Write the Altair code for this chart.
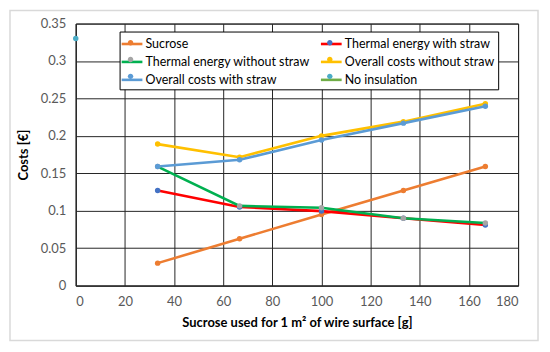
import altair as alt
import pandas as pd

x_vals = [33.33, 66.67, 100, 133.33, 166.67]
series_names = ["Sucrose", "Thermal energy with straw", "Thermal energy without straw",
                "Overall costs without straw", "Overall costs with straw", "No insulation"]
sucrose = [0.030, 0.0625, 0.095, 0.127, 0.159]
thermal_with = [0.127, 0.105, 0.0995, 0.090, 0.081]
thermal_without = [0.159, 0.1065, 0.104, 0.090, 0.0835]
overall_without = [0.189, 0.1715, 0.200, 0.219, 0.243]
overall_with = [0.159, 0.168, 0.1945, 0.217, 0.2395]
no_ins_x = [0]
no_ins_y = [0.33]

line_colors = ["#ED7D31", "#FF0000", "#00B050", "#FFC000", "#5B9BD5", "#70AD47"]
marker_colors = ["#ED7D31", "#4472C4", "#A5A5A5", "#FFC000", "#5B9BD5", "#4BACC6"]

rows = []
for name, ys in zip(series_names[:5], [sucrose, thermal_with, thermal_without, overall_without, overall_with]):
    for xv, yv in zip(x_vals, ys):
        rows.append({"series": name, "x": xv, "y": yv})
for xv, yv in zip(no_ins_x, no_ins_y):
    rows.append({"series": series_names[5], "x": xv, "y": yv})
df = pd.DataFrame(rows)

# legend fills column-major: reorder so it reads row by row like the original
legend_idx = [0, 2, 4, 1, 3, 5]
legend_order = [series_names[i] for i in legend_idx]
line_range = [line_colors[i] for i in legend_idx]
marker_range = [marker_colors[i] for i in legend_idx]

FONT = "Lato"
line_sym = "M-1.3,0H1.3"
dot_sym = "M0.34,0A0.34,0.34 0 1,1 -0.34,0A0.34,0.34 0 1,1 0.34,0Z"

common_legend = dict(orient="none", legendX=44, legendY=8, columns=2, title=None,
                     labelFont=FONT, labelFontSize=12.5, symbolSize=256,
                     rowPadding=2, padding=3, labelOffset=4, labelLimit=300)

xenc = alt.X("x:Q", scale=alt.Scale(domain=[0, 180], nice=False),
             axis=alt.Axis(values=list(range(0, 181, 20)),
                           title="Sucrose used for 1 m² of wire surface [g]"))
yenc = alt.Y("y:Q", scale=alt.Scale(domain=[0, 0.35], nice=False),
             axis=alt.Axis(values=[0, 0.05, 0.1, 0.15, 0.2, 0.25, 0.3, 0.35],
                           format=".2~f", title="Costs [€]"))

base = alt.Chart(df)

lines = base.mark_line(strokeWidth=2.6).encode(
    x=xenc, y=yenc,
    stroke=alt.Stroke("series:N",
                      scale=alt.Scale(domain=legend_order, range=line_range),
                      legend=alt.Legend(symbolType=line_sym, symbolStrokeWidth=2.6,
                                        strokeColor="#000000", fillColor="#ffffff",
                                        labelColor="#000000", columnPadding=4,
                                        **common_legend)),
    order=alt.Order("x:Q"),
)

points = base.mark_circle(size=30, opacity=1).encode(
    x=xenc, y=yenc,
    fill=alt.Fill("series:N", sort=legend_order,
                  scale=alt.Scale(range=marker_range),
                  legend=alt.Legend(symbolType=dot_sym, symbolStrokeWidth=0,
                                    labelExpr="''", symbolOpacity=1,
                                    columnPadding=180, **common_legend)),
)

frame = alt.Chart(alt.Data(values=[{}])).mark_rect(
    fill=None, stroke="#D9D9D9", strokeWidth=1.5
).encode(x=alt.value(-66), x2=alt.value(464), y=alt.value(-13), y2=alt.value(318))

chart = alt.layer(frame, lines, points).resolve_scale(
    stroke="independent", fill="independent"
).properties(
    width=444, height=263,
    padding={"left": 68, "top": 15, "right": 24, "bottom": 58},
    autosize=alt.AutoSizeParams(type="none"),
).configure_view(stroke="#262626", strokeWidth=1).configure_axis(
    labelFont=FONT, labelFontSize=13, labelColor="#595959",
    titleFont=FONT, titleFontSize=13, titleFontWeight="bold", titleColor="#000000",
    gridColor="#262626", gridWidth=1, gridOpacity=1,
    domainColor="#262626", ticks=False, labelPadding=10,
).configure_axisX(titlePadding=8).configure_axisY(titlePadding=10)

chart.save("out.html", embed_options={"renderer": "svg", "actions": False})
